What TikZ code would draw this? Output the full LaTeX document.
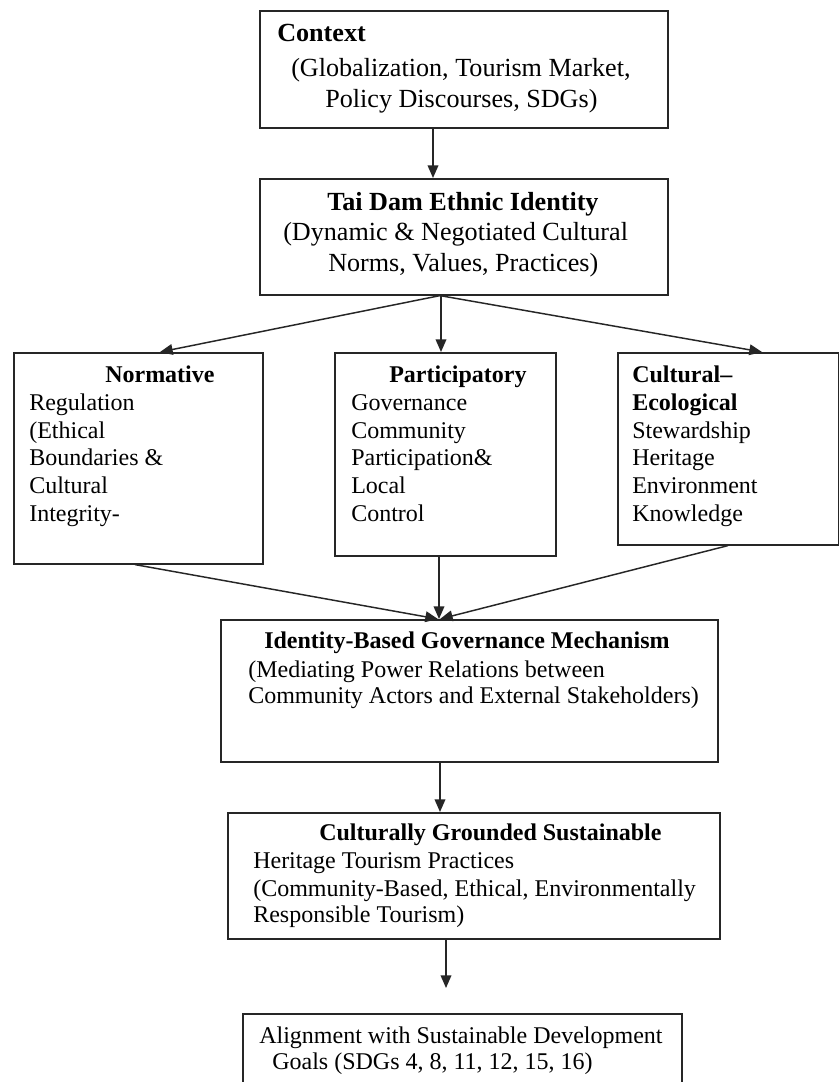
\documentclass[tikz,border=0pt]{standalone}
\usepackage{fontspec}
\setmainfont{Liberation Serif}
\usetikzlibrary{arrows.meta,calc}
\newcommand\fbig{\fontsize{19.6}{23}\selectfont}
\newcommand\fsm{\fontsize{18}{21}\selectfont}
\begin{document}
\begin{tikzpicture}[x=0.75pt,y=-0.75pt,
  box/.style={draw=black!85,line width=1.2pt,inner sep=0pt,anchor=north west},
  tb/.style={anchor=base west,inner sep=0pt,font=\fbig},
  ts/.style={anchor=base west,inner sep=0pt,font=\fsm},
  arr/.style={draw=black!85,line width=1.1pt,-{Triangle[length=9.5pt,width=8pt]}}]
\useasboundingbox[fill=white] (0,0) rectangle (839,1082);
% boxes
\node[box,minimum width=408*0.75pt,minimum height=117*0.75pt] (b1) at (259,10) {};
\node[box,minimum width=408*0.75pt,minimum height=116*0.75pt] (b2) at (259,178) {};
\node[box,minimum width=249*0.75pt,minimum height=211*0.75pt] (b3) at (13,352) {};
\node[box,minimum width=221*0.75pt,minimum height=203*0.75pt] (b4) at (334,352) {};
\node[box,minimum width=221*0.75pt,minimum height=192*0.75pt] (b5) at (617,352) {};
\node[box,minimum width=497*0.75pt,minimum height=142*0.75pt] (b6) at (220,619) {};
\node[box,minimum width=492*0.75pt,minimum height=126*0.75pt] (b7) at (227,812) {};
\node[box,minimum width=439*0.75pt,minimum height=76*0.75pt] (b8) at (242,1013) {};
% texts box 1
\node[tb] (t1a) at (277,41) {\bfseries Context};
\node[tb] (t1b) at (291,76) {(Globalization, Tourism Market,};
\node[tb] (t1c) at (325,107) {Policy Discourses, SDGs)};
% box 2
\node[tb] (t2a) at (327,210) {\bfseries Tai Dam Ethnic Identity};
\node[tb] (t2b) at (283,240) {(Dynamic \& Negotiated Cultural};
\node[tb] (t2c) at (328,271) {Norms, Values, Practices)};
% box 3
\node[ts] (t3a) at (105,382) {\bfseries Normative};
\node[ts] (t3b) at (29,410) {Regulation};
\node[ts] (t3c) at (29,438) {(Ethical};
\node[ts] (t3d) at (29,465) {Boundaries \&};
\node[ts] (t3e) at (29,493) {Cultural};
\node[ts] (t3f) at (29,521) {Integrity-};
% box 4
\node[ts] (t4a) at (389,382) {\bfseries Participatory};
\node[ts] (t4b) at (351,410) {Governance};
\node[ts] (t4c) at (351,438) {Community};
\node[ts] (t4d) at (351,465) {Participation\&};
\node[ts] (t4e) at (351,493) {Local};
\node[ts] (t4f) at (351,521) {Control};
% box 5
\node[ts] (t5a) at (632,382) {\bfseries Cultural–};
\node[ts] (t5b) at (632,410) {\bfseries Ecological};
\node[ts] (t5c) at (632,438) {Stewardship};
\node[ts] (t5d) at (632,465) {Heritage};
\node[ts] (t5e) at (632,493) {Environment};
\node[ts] (t5f) at (632,521) {Knowledge};
% box 6
\node[ts] (t6a) at (264,648) {\bfseries Identity-Based Governance Mechanism};
\node[ts] (t6b) at (248,677) {(Mediating Power Relations between};
\node[ts] (t6c) at (248,703) {Community Actors and External Stakeholders)};
% box 7
\node[ts] (t7a) at (319,840) {\bfseries Culturally Grounded Sustainable};
\node[ts] (t7b) at (253,868) {Heritage Tourism Practices};
\node[ts] (t7c) at (253,896) {(Community-Based, Ethical, Environmentally};
\node[ts] (t7d) at (253,922) {Responsible Tourism)};
% box 8
\node[ts] (t8a) at (259,1043) {Alignment with Sustainable Development};
\node[ts] (t8b) at (272,1069) {Goals (SDGs 4, 8, 11, 12, 15, 16)};
% connectors
\coordinate (e9) at (446,988);
\draw[arr] ($(b1.south west)+(174,0)$) -- ($(b2.north west)+(174,0)$);
\draw[arr] ($(b2.south west)+(181,0)$) -- ($(b3.north west)+(147,0)$);
\draw[arr] ($(b2.south west)+(182,0)$) -- ($(b4.north west)+(107,0)$);
\draw[arr] ($(b2.south west)+(181,0)$) -- ($(b5.north west)+(145,0)$);
\draw[arr] ($(b3.south west)+(122,0)$) -- ($(b6.north west)+(218,0)$);
\draw[arr] ($(b4.south west)+(105,0)$) -- ($(b6.north west)+(219,0)$);
\draw[arr] ($(b5.south west)+(111,0)$) -- ($(b6.north west)+(220,0)$);
\draw[arr] ($(b6.south west)+(220,0)$) -- ($(b7.north west)+(213,0)$);
\draw[arr] ($(b7.south west)+(219,0)$) -- (e9);
\end{tikzpicture}
\end{document}
